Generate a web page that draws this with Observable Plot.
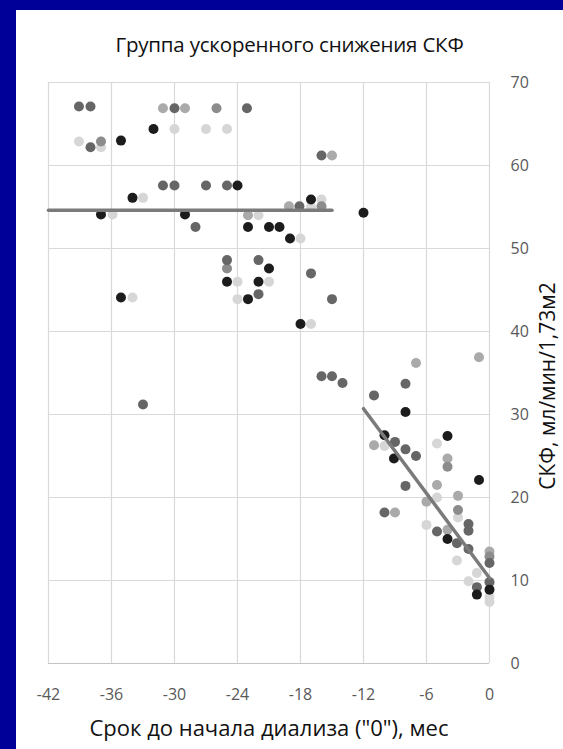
<!DOCTYPE html>
<html><head><meta charset="utf-8">
<script src="https://cdn.jsdelivr.net/npm/d3@7"></script>
<script src="https://cdn.jsdelivr.net/npm/@observablehq/plot@0.6"></script>
<style>
html,body{margin:0;padding:0;background:#000099;width:563px;height:749px;overflow:hidden;}
#card{position:absolute;left:16px;top:10px;width:547px;height:739px;background:#fff;}
#title{position:absolute;left:0;width:547px;top:20px;line-height:28px;text-align:center;font-family:"Open Sans",sans-serif;font-size:20.5px;color:#111;letter-spacing:-0.2px;}
#chart{position:absolute;left:0;top:50px;}
</style>
</head><body>
<div id="card">
  <div id="title">Группа ускоренного снижения СКФ</div>
  <div id="chart"></div>
</div>
<script>
const titleText = "Группа ускоренного снижения СКФ";
const xTitle = "Срок до начала диализа (\"0\"), мес";
const yTitle = "СКФ, мл/мин/1,73м2";
const xTicks = [-42, -36, -30, -24, -18, -12, -6, 0];
const yTicks = [0, 10, 20, 30, 40, 50, 60, 70];

// series by shade: [month, GFR]
const blackPts = [[-32,64.4],[-35.1,63],[-34,56.1],[-37,54.1],[-29,54.1],[-24,57.6],[-17,55.9],[-12,54.3],[-23,52.6],[-21,52.6],[-20,52.6],[-19,51.2],[-21,47.6],[-25,46],[-22,46],[-23,43.9],[-35.1,44.1],[-18,40.9],[-8,30.3],[-10,27.5],[-9.1,24.7],[-4,27.4],[-1,22.1],[-4,15],[-1.2,8.3],[0,8.9]];
const darkPts = [[-39.1,67.1],[-38,67.1],[-30,66.9],[-38,62.2],[-31.1,57.6],[-30,57.6],[-27,57.6],[-28,52.6],[-23.1,66.9],[-16,61.2],[-25,57.6],[-18.1,55.1],[-25,48.6],[-22,48.6],[-33,31.2],[-22,44.5],[-17,47],[-15,43.9],[-16,34.6],[-15,34.6],[-14,33.8],[-11,32.3],[-8,33.7],[-9,26.7],[-8,25.8],[-7,25],[-8,21.4],[-10,18.2],[-5,15.9],[-2,16.8],[-2,16],[-3.1,14.5],[-2,13.8],[0,12.1],[-1.2,9.2],[0,9.8]];
const midPts = [[-37,62.9],[-26,66.9],[-16,55.1],[-25,47.6],[-4,23.7],[-3,18.5],[0,12.9]];
const lightPts = [[-31.1,66.9],[-29,66.9],[-15,61.2],[-19.1,55.1],[-23,54],[-11,26.3],[-1,36.9],[-7,36.2],[-4,24.7],[-5,21.5],[-3,20.2],[-6,19.5],[-9,18.2],[-4,16.1],[0,13.5]];
const paleShade = [[-30,64.4],[-27,64.4],[-39.1,62.9],[-37,62.2],[-33,56.1],[-35.9,54.1],[-25,64.4],[-16,55.9],[-17,55],[-22,54],[-18,51.2],[-24,46],[-21,46],[-24,43.9],[-34,44.1],[-17,40.9],[-10,26.2],[-5,26.5],[-5,20],[-3,17.6],[-6,16.7],[-3.1,12.4],[-1.2,10.9],[-2,9.9],[0,8],[0,7.4]];

const trendFlatX = [-42, -15], trendFlatY = [54.6, 54.6];
const trendDropX = [-12, 0], trendDropY = [30.7, 10.3];

const toRows = a => a.map(([x, y]) => ({x, y}));
const lineRows = (xs, ys) => xs.map((x, i) => ({x, y: ys[i]}));

const series = [
  {pts: paleShade, fill: "#d6d6d6"},
  {pts: lightPts, fill: "#aaaaaa"},
  {pts: midPts, fill: "#8c8c8c"},
  {pts: darkPts, fill: "#666666"},
  {pts: blackPts, fill: "#1c1c1c"}
];

const chart = Plot.plot({
  width: 547,
  height: 689,
  marginLeft: 32,
  marginRight: 74,
  marginTop: 22,
  marginBottom: 86,
  style: {fontFamily: "'Open Sans', sans-serif", fontSize: "16px", color: "#595959", background: "transparent"},
  x: {domain: [-42, 0]},
  y: {domain: [0, 70]},
  marks: [
    Plot.gridX(xTicks, {stroke: "#d9d9d9", strokeOpacity: 1, strokeWidth: 1.2}),
    Plot.gridY(yTicks, {stroke: "#d9d9d9", strokeOpacity: 1, strokeWidth: 1.2}),
    Plot.ruleY([0], {stroke: "#c4c4c4", strokeWidth: 1.2}),
    Plot.axisX(xTicks, {tickSize: 0, tickPadding: 25, tickFormat: d => String(d), fill: "#595959", fontSize: 16, label: null}),
    Plot.axisY(yTicks, {anchor: "right", tickSize: 0, tickPadding: 21, tickFormat: d => String(d), fill: "#595959", fontSize: 16, label: null, textAnchor: "start"}),
    ...series.map(s => Plot.dot(toRows(s.pts), {x: "x", y: "y", r: 5, fill: s.fill, stroke: "none"})),
    Plot.line(lineRows(trendFlatX, trendFlatY), {x: "x", y: "y", stroke: "#7a7a7a", strokeWidth: 3.5}),
    Plot.line(lineRows(trendDropX, trendDropY), {x: "x", y: "y", stroke: "#7a7a7a", strokeWidth: 3.5}),
    Plot.text([xTitle], {frameAnchor: "bottom", dy: 65, lineAnchor: "middle", textAnchor: "middle", text: d => d, fontSize: 22, fill: "#111"}),
    Plot.text([yTitle], {frameAnchor: "right", dx: 59, dy: 13, rotate: -90, textAnchor: "middle", lineAnchor: "middle", text: d => d, fontSize: 21, fill: "#111"})
  ]
});
document.getElementById("chart").appendChild(chart);
</script>
</body></html>
